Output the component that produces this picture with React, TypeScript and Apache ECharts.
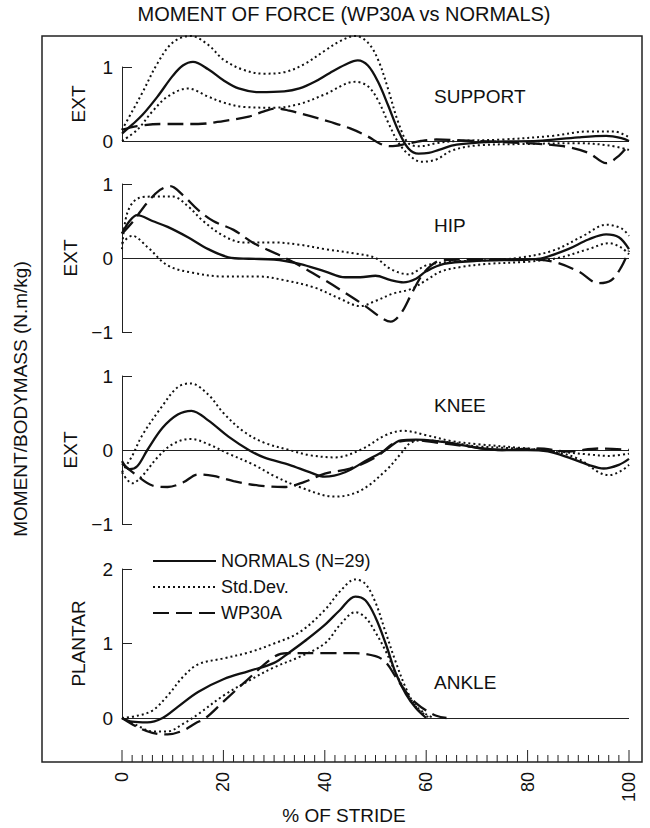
import React, { useEffect, useRef } from "react";
import * as echarts from "echarts";

// ---------- data: [% of stride, moment (N.m/kg)] ----------
const supportNormal = [[0,0.1],[2,0.22],[4,0.35],[7,0.6],[10,0.88],[12,1.02],[14,1.07],[17,0.97],[20,0.82],[23,0.71],[27,0.66],[32,0.67],[35,0.71],[38,0.8],[41,0.92],[44,1.03],[46.5,1.09],[48.5,1.02],[50.5,0.8],[52.5,0.48],[54.5,0.14],[56.5,-0.1],[58.5,-0.17],[60.5,-0.16],[62.5,-0.12],[66,-0.05],[74,-0.01],[82,0.0],[90,0.05],[95.5,0.07],[98.5,0.04],[100,0.0]];
const supportSdUpper = [[0,0.15],[2,0.4],[4,0.65],[7,1.05],[10,1.33],[13.5,1.42],[17,1.3],[20,1.1],[24,0.96],[28,0.91],[32,0.93],[36,1.04],[40,1.22],[43,1.35],[46,1.42],[48.5,1.33],[50.5,1.1],[52.5,0.7],[54.5,0.25],[56.5,-0.03],[59,-0.07],[62,-0.03],[66,0.0],[75,0.02],[85,0.07],[92,0.13],[97,0.13],[100,0.05]];
const supportSdLower = [[0,0.0],[3,0.15],[6,0.4],[9,0.6],[13,0.71],[17,0.6],[20,0.52],[24,0.46],[30,0.45],[35,0.5],[40,0.63],[46,0.8],[48.5,0.74],[50.5,0.55],[52.5,0.25],[54.5,-0.02],[56.5,-0.18],[59,-0.28],[62,-0.25],[65,-0.13],[70,-0.06],[80,-0.04],[90,-0.03],[96,-0.06],[100,-0.12]];
const supportWp = [[0,0.15],[3,0.2],[8,0.23],[15,0.23],[20,0.27],[25,0.33],[28,0.4],[30.5,0.44],[33,0.41],[37,0.34],[41,0.26],[45,0.17],[48.5,0.06],[51,-0.04],[53,-0.07],[56,-0.04],[59,0.0],[62,0.02],[70,0.0],[80,-0.03],[87,-0.07],[92,-0.16],[95.5,-0.3],[98,-0.2],[100,-0.05]];

const hipNormal = [[0,0.33],[1.5,0.5],[3,0.58],[6,0.5],[9,0.42],[13,0.28],[17,0.12],[21,0.01],[25,-0.01],[30,-0.02],[35,-0.08],[40,-0.18],[44,-0.26],[47,-0.26],[50,-0.24],[53,-0.3],[55.5,-0.33],[58,-0.28],[60,-0.18],[63.5,-0.08],[70,-0.04],[80,-0.02],[83,0.0],[88,0.12],[92,0.25],[95.5,0.32],[98,0.28],[100,0.12]];
const hipSdUpper = [[0,0.12],[1,0.6],[3,0.8],[6,0.83],[10,0.83],[13,0.7],[16,0.5],[20,0.3],[24,0.21],[30,0.21],[35,0.18],[40,0.12],[46,0.06],[50,0.0],[53,-0.15],[56.5,-0.22],[60,-0.1],[65,-0.05],[72,-0.03],[78,0.0],[85,0.1],[91,0.3],[95.5,0.45],[98.5,0.4],[100,0.3]];
const hipSdLower = [[0,0.2],[2,0.3],[5,0.15],[9,-0.1],[14,-0.2],[20,-0.25],[27,-0.25],[32,-0.3],[38,-0.4],[43,-0.55],[47,-0.65],[50,-0.58],[53.5,-0.48],[57,-0.42],[60,-0.3],[63,-0.18],[67,-0.12],[72,-0.08],[80,-0.05],[86,0.0],[92,0.12],[96,0.2],[98.5,0.14],[100,0.05]];
const hipWp = [[0,0.33],[2,0.48],[5,0.75],[7.5,0.92],[9.5,0.97],[12,0.85],[15,0.65],[18,0.5],[22,0.38],[26,0.2],[31,0.04],[35,-0.1],[40,-0.3],[44,-0.47],[48,-0.65],[51,-0.8],[53,-0.86],[55,-0.75],[57,-0.5],[59,-0.25],[61,-0.1],[63,-0.03],[70,-0.02],[80,-0.02],[85,-0.05],[90,-0.18],[94,-0.34],[96.5,-0.3],[98.5,-0.12],[100,0.1]];

const kneeNormal = [[0,-0.15],[1.5,-0.26],[3,-0.22],[5,0.0],[8,0.3],[11,0.48],[13.7,0.53],[17,0.4],[21,0.18],[25,0.0],[28,-0.1],[33,-0.2],[37,-0.3],[40,-0.36],[44,-0.3],[48,-0.15],[52,0.0],[55,0.13],[58,0.14],[62,0.12],[66,0.08],[70,0.03],[75,0.0],[80,0.0],[84,-0.02],[88,-0.1],[92,-0.2],[95,-0.25],[98,-0.2],[100,-0.12]];
const kneeSdUpper = [[0,-0.3],[2,-0.08],[4,0.2],[8,0.6],[11,0.85],[13.5,0.9],[17,0.75],[20,0.5],[24,0.25],[28,0.1],[33,0.0],[37,-0.07],[42,-0.1],[47,0.0],[52,0.2],[55.5,0.26],[60,0.2],[65,0.12],[70,0.08],[80,0.02],[86,-0.02],[92,-0.06],[96,-0.08],[100,-0.05]];
const kneeSdLower = [[0,-0.3],[2,-0.45],[4,-0.35],[7,-0.1],[10,0.08],[13.5,0.15],[17,0.08],[21,-0.05],[26,-0.2],[30,-0.35],[35,-0.5],[42,-0.63],[47,-0.55],[52,-0.28],[55,-0.05],[57,0.1],[60,0.13],[65,0.1],[70,0.05],[78,0.02],[85,-0.02],[90,-0.12],[94,-0.3],[96,-0.34],[98.5,-0.28],[100,-0.2]];
const kneeWp = [[0,-0.18],[3,-0.35],[6,-0.48],[9,-0.5],[12,-0.44],[15,-0.33],[18,-0.35],[22,-0.42],[27,-0.48],[32,-0.5],[36,-0.43],[40,-0.32],[45,-0.25],[50,-0.1],[54,0.1],[58,0.13],[62,0.1],[68,0.05],[75,0.0],[82,0.02],[88,-0.02],[94,0.02],[100,0.0]];

const ankleNormal = [[0,0],[2,-0.05],[5,-0.06],[8,0.0],[11,0.15],[15,0.35],[20,0.52],[25,0.63],[30,0.74],[33,0.88],[36,1.03],[40,1.25],[43,1.45],[46,1.63],[48,1.58],[50,1.35],[52,1.0],[54,0.6],[56,0.32],[58,0.13],[60,0.0]];
const ankleSdUpper = [[0,0],[3,0.03],[6,0.1],[9,0.3],[12,0.55],[15,0.72],[20,0.8],[25,0.88],[30,1.0],[35,1.15],[40,1.45],[43,1.7],[46,1.86],[48,1.8],[50,1.55],[52,1.15],[54,0.75],[56,0.4],[58,0.15],[60,0.03],[61,0]];
const ankleSdLower = [[0,0],[3,-0.1],[6,-0.18],[9,-0.18],[12,-0.08],[15,0.05],[20,0.3],[25,0.5],[30,0.68],[35,0.82],[40,1.0],[43,1.25],[46,1.42],[48,1.35],[50,1.15],[52,0.9],[54,0.6],[56,0.35],[58,0.16],[60,0.05],[61.5,0]];
const ankleWp = [[0,0],[3,-0.12],[6,-0.2],[9,-0.22],[12,-0.17],[14.5,-0.07],[16.5,0.0],[20,0.22],[25,0.53],[30,0.82],[32.5,0.87],[40,0.87],[46,0.87],[50,0.83],[52,0.75],[54,0.55],[56,0.35],[58,0.2],[60,0.1],[62,0.03],[64,0]];

const panelNames = ["SUPPORT", "HIP", "KNEE", "ANKLE"];
const panelAxisNames = ["EXT", "EXT", "EXT", "PLANTAR"];
const panelRanges = [[0, 1], [-1, 1], [-1, 1], [0, 2]];
const xMajorStep = 20;
const xMinorStep = 2;
const legendNames = ["NORMALS (N=29)", "Std.Dev.", "WP30A"];

const FONT = '"Liberation Sans", Arial, Helvetica, sans-serif';
const INK = "#111";

export default function App() {
  const ref = useRef<HTMLDivElement>(null);

  useEffect(() => {
    document.body.style.margin = "0";
    const chart = echarts.init(ref.current!, null, { renderer: "svg" });

    const gridTops = [67, 184, 376, 569];
    const gridHeights = [74, 148, 148, 149];
    const labelPos = [[434, 96], [434, 225], [434, 405], [434, 682]];
    const AXIS_DROP = 44; // stride axis sits on the frame bottom, 44px under the ankle baseline

    const panels = [
      [supportNormal, supportSdUpper, supportSdLower, supportWp],
      [hipNormal, hipSdUpper, hipSdLower, hipWp],
      [kneeNormal, kneeSdUpper, kneeSdLower, kneeWp],
      [ankleNormal, ankleSdUpper, ankleSdLower, ankleWp],
    ];

    const styles = [
      { color: INK, width: 2.3, type: "solid" },
      { color: INK, width: 2, type: [2, 3] },
      { color: INK, width: 2, type: [2, 3] },
      { color: INK, width: 2.3, type: [16, 7] },
    ];
    const names = [legendNames[0], legendNames[1], legendNames[1], legendNames[2]];

    const series: any[] = [];
    panels.forEach((set, gi) => {
      set.forEach((data, si) => {
        const s: any = {
          type: "line",
          name: names[si],
          data,
          xAxisIndex: gi,
          yAxisIndex: gi,
          symbol: "none",
          showSymbol: false,
          smooth: 0.35,
          clip: false,
          lineStyle: styles[si],
          itemStyle: { color: INK },
          z: 3,
        };
        if (si === 0) {
          s.markLine = {
            silent: true,
            symbol: "none",
            label: { show: false },
            lineStyle: { color: "#222", width: 1, type: "solid" },
            data: [{ yAxis: 0 }],
            z: 2,
          };
        }
        series.push(s);
      });
    });

    const grid: any[] = gridTops.map((top, i) => ({
      left: 122,
      right: 21,
      top,
      height: gridHeights[i],
      containLabel: false,
    }));

    const xAxis: any[] = gridTops.map((_, i) => {
      if (i < 3) return { type: "value", gridIndex: i, min: 0, max: 100, show: false };
      return {
        type: "value",
        gridIndex: i,
        min: 0,
        max: 100,
        interval: xMajorStep,
        position: "bottom",
        offset: AXIS_DROP,
        axisLine: { show: false },
        axisTick: { show: false },
        splitLine: { show: false },
        axisLabel: {
          rotate: 90,
          margin: 10,
          fontSize: 18,
          color: INK,
          fontFamily: FONT,
        },
      };
    });

    const yAxis: any[] = panelRanges.map((r, i) => ({
      type: "value",
      gridIndex: i,
      min: r[0],
      max: r[1],
      interval: 1,
      axisLine: { show: true, onZero: false, lineStyle: { color: "#222", width: 1 } },
      axisTick: { show: true, inside: true, length: 10, lineStyle: { color: "#222", width: 1 } },
      splitLine: { show: false },
      axisLabel: {
        fontSize: 19,
        color: INK,
        margin: 9,
        fontFamily: FONT,
        formatter: (v: number) => (v < 0 ? "\u2212" + Math.abs(v) : String(v)),
      },
      name: panelAxisNames[i],
      nameLocation: "middle",
      nameGap: 34,
      nameTextStyle: { fontSize: 19, color: INK, fontFamily: FONT },
    }));

    const graphic: any[] = [
      {
        id: "frame",
        type: "rect",
        shape: { x: 42, y: 36, width: 600, height: 726 },
        style: { fill: "none", stroke: "#222", lineWidth: 1.5 },
        z: 0,
        silent: true,
      },
      {
        id: "title",
        type: "text",
        x: 344,
        y: 14,
        style: {
          text: "MOMENT OF FORCE (WP30A vs NORMALS)",
          fontSize: 20,
          fontFamily: FONT,
          fill: INK,
          textAlign: "center",
          textVerticalAlign: "middle",
        },
      },
      {
        id: "xname",
        type: "text",
        x: 344,
        y: 815,
        style: {
          text: "% OF STRIDE",
          fontSize: 19,
          fontFamily: FONT,
          fill: INK,
          textAlign: "center",
          textVerticalAlign: "middle",
        },
      },
      {
        id: "yname",
        type: "text",
        x: 20,
        y: 399,
        rotation: Math.PI / 2,
        style: {
          text: "MOMENT/BODYMASS (N.m/kg)",
          fontSize: 19,
          fontFamily: FONT,
          fill: INK,
          textAlign: "center",
          textVerticalAlign: "middle",
        },
      },
    ];
    panelNames.forEach((n, i) => {
      graphic.push({
        id: "panel" + i,
        type: "text",
        x: labelPos[i][0],
        y: labelPos[i][1],
        style: {
          text: n,
          fontSize: 19,
          fontFamily: FONT,
          fill: INK,
          textAlign: "left",
          textVerticalAlign: "middle",
        },
      });
    });

    chart.setOption({
      animation: false,
      backgroundColor: "#fff",
      textStyle: { fontFamily: FONT },
      legend: {
        data: legendNames,
        orient: "vertical",
        left: 147,
        top: 547,
        itemWidth: 63,
        itemHeight: 14,
        itemGap: 8,
        selectedMode: false,
        itemStyle: { opacity: 0 },
        textStyle: { fontSize: 18, color: INK, fontFamily: FONT },
      },
      grid,
      xAxis,
      yAxis,
      series,
      graphic,
    });

    // stride-axis tick marks (major every 20, minor every 2), placed through the x scale
    const tickEls: any[] = [];
    for (let v = 0; v <= 100; v += xMinorStep) {
      const p = chart.convertToPixel({ xAxisIndex: 3, yAxisIndex: 3 }, [v, 0]) as number[];
      if (!p || !isFinite(p[0]) || !isFinite(p[1])) continue;
      const len = v % xMajorStep === 0 ? 12 : 7;
      const y0 = p[1] + AXIS_DROP;
      tickEls.push({
        id: "tick" + v,
        type: "line",
        shape: { x1: p[0], y1: y0, x2: p[0], y2: y0 - len },
        style: { stroke: "#222", lineWidth: 1 },
        z: 10,
        silent: true,
      });
    }
    chart.setOption({ graphic: [...graphic, ...tickEls] });

    return () => chart.dispose();
  }, []);

  return <div ref={ref} style={{ width: 650, height: 828 }} />;
}
